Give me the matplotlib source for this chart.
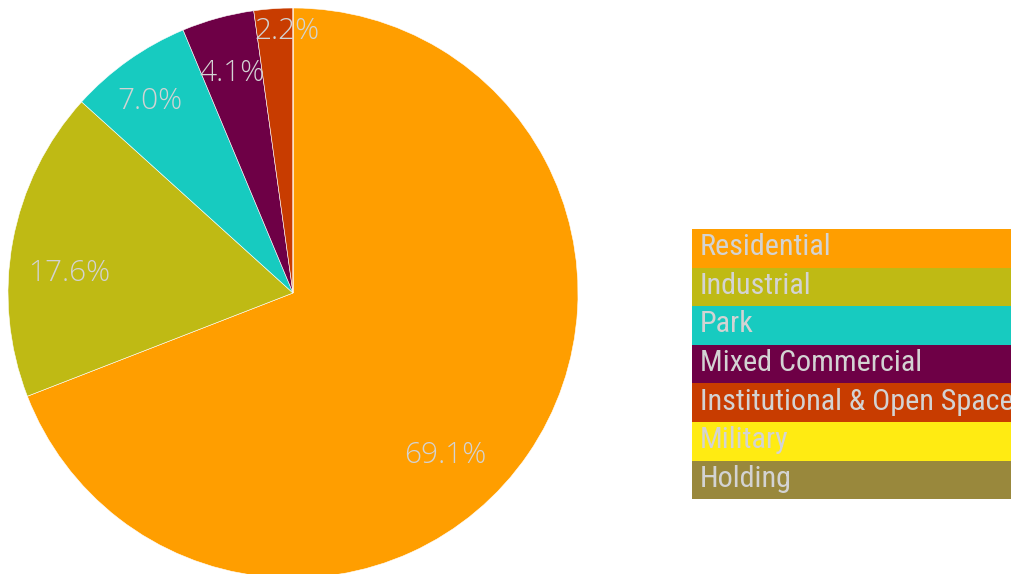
import matplotlib
matplotlib.use("Agg")
import matplotlib.pyplot as plt
import numpy as np

categories = ["Residential", "Industrial", "Park", "Mixed Commercial",
              "Institutional & Open Space", "Military", "Holding"]
values = [69.1, 17.6, 7.0, 4.1, 2.2, 0.0, 0.0]
colors = ["#FF9E00", "#BFBA14", "#17CBC0", "#6E0046", "#C83C00", "#FFEB12", "#99883C"]

W, H = 1011, 574
fig = plt.figure(figsize=(W / 100, H / 100), dpi=100)
ax = fig.add_axes([0, 0, 1, 1])

cx, cy, R = 293, H - 293, 285
wedges, _ = ax.pie(values, colors=colors, startangle=90, counterclock=False,
                   center=(cx, cy), radius=R, frame=True,
                   wedgeprops=dict(linewidth=0.4, edgecolor="white"))
ax.set_xlim(0, W)
ax.set_ylim(0, H)
ax.set_aspect("equal")
ax.axis("off")

label_color = "#D3D3D3"
# label placement adjustments (angle offset deg, radial fraction)
overrides = {0: (-12.5, 0.78), 1: (5.4, 0.79), 2: (1.4, 0.84), 3: (0.2, 0.80), 4: (-2.7, 0.92)}
total = sum(values)
cum = 0.0
for i, v in enumerate(values):
    if v <= 0:
        cum += v
        continue
    mid = 90 - (cum + v / 2) / total * 360
    dang, frac = overrides.get(i, (0, 0.79))
    a = np.deg2rad(mid + dang)
    ax.text(cx + frac * R * np.cos(a), cy + frac * R * np.sin(a), f"{v:.1f}%",
            ha="center", va="center", color=label_color, fontsize=21.5,
            family=["Open Sans", "DejaVu Sans"], fontweight="light")
    cum += v

# legend
lx, top, rowh = 692, H - 229, 38.6
for i, (c, lab) in enumerate(zip(colors, categories)):
    y0 = top - (i + 1) * rowh
    ax.add_patch(plt.Rectangle((lx, y0), W - lx + 5, rowh, facecolor=c,
                               edgecolor="none", clip_on=False))
    ax.text(lx + 8, y0 + rowh / 2 + 1, lab, ha="left", va="center",
            color=label_color, fontsize=21.7, fontstretch="condensed",
            family=["Roboto Condensed", "Liberation Sans Narrow", "DejaVu Sans"])

fig.savefig("out.png", dpi=100)
